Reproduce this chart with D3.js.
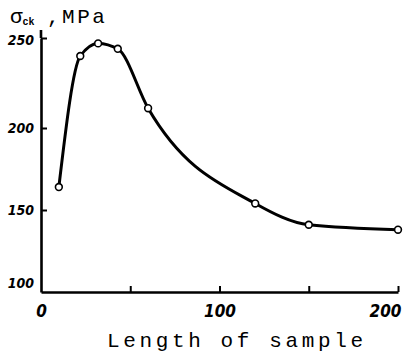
<!DOCTYPE html>
<html>
<head>
<meta charset="utf-8">
<script src="https://cdn.jsdelivr.net/npm/d3@7"></script>
<style>
  body { margin: 0; background: #fff; }
  svg { display: block; }
</style>
</head>
<body>
<div id="chart"></div>
<script>
// sample length and strength
const lengths = [10, 22, 32, 43, 60, 120, 150, 200];
const strength = [164, 240, 247, 244, 211, 154, 141, 138];
const yTicks = [100, 150, 200, 250];
const xTicks = [0, 50, 100, 150, 200];
const xLabels = [0, 100, 200];

const svg = d3.select("#chart")
    .append("svg")
    .attr("width", 406)
    .attr("height", 358);

const x = d3.scaleLinear().domain([0, 200]).range([41, 398]);
// the hand drawn axis is not evenly spaced, so map each labelled tick
const y = d3.scaleLinear().domain([100, 150, 200, 250]).range([292, 210, 128, 38]);

const tickFont = "'Liberation Sans Narrow', 'DejaVu Sans Condensed', sans-serif";

const yAxis = svg.append("g")
    .attr("transform", "translate(41,0)")
    .call(d3.axisLeft(y).tickValues(yTicks).tickSize(-6).tickSizeOuter(0).tickPadding(7));

const xAxis = svg.append("g")
    .attr("transform", "translate(0,292)")
    .call(d3.axisBottom(x).tickValues(xTicks).tickSize(-6).tickSizeOuter(0).tickPadding(13)
        .tickFormat(d => xLabels.includes(d) ? d : ""));

[yAxis, xAxis].forEach(g => {
    g.select(".domain").attr("stroke", "#000").attr("stroke-width", 2.6);
    g.selectAll(".tick line").attr("stroke", "#000").attr("stroke-width", 2);
    g.selectAll(".tick text")
        .attr("fill", "#000")
        .style("font-family", tickFont)
        .style("font-weight", "bold")
        .style("font-style", "italic");
});
yAxis.selectAll(".tick text").style("font-size", "14px");
yAxis.selectAll(".tick").filter(d => d === 100).select("line").remove();
yAxis.selectAll(".tick").filter(d => d === 100).select("text").attr("dy", "-0.3em");
yAxis.selectAll(".tick").filter(d => d === 250).select("text").attr("dy", "0.45em");
xAxis.selectAll(".tick text").style("font-size", "17px");
xAxis.selectAll(".tick").filter(d => d === 0).select("line").remove();
xAxis.selectAll(".tick").filter(d => d === 200).select("text").attr("text-anchor", "end").attr("dx", 3);

// little extension of the y axis above 250
svg.append("line")
    .attr("x1", 41).attr("x2", 41)
    .attr("y1", 30).attr("y2", y(250))
    .attr("stroke", "#000").attr("stroke-width", 2.6);

const pts = lengths.map((d, i) => [d, strength[i]]);

const line = d3.line()
    .x(d => x(d[0]))
    .y(d => y(d[1]))
    .curve(d3.curveMonotoneX);

svg.append("path")
    .datum(pts)
    .attr("d", line)
    .attr("fill", "none")
    .attr("stroke", "#000")
    .attr("stroke-width", 3);

svg.selectAll("circle")
    .data(pts)
    .enter()
    .append("circle")
    .attr("cx", d => x(d[0]))
    .attr("cy", d => y(d[1]))
    .attr("r", 3.4)
    .attr("fill", "#fff")
    .attr("stroke", "#000")
    .attr("stroke-width", 1.6);

// axis titles
const monoFont = "'Liberation Mono', 'DejaVu Sans Mono', monospace";

const yTitle = svg.append("text")
    .attr("x", 10)
    .attr("y", 23)
    .style("font-family", monoFont)
    .style("font-size", "21px")
    .attr("fill", "#000");
yTitle.append("tspan").text("σ");
yTitle.append("tspan").attr("dy", 2).style("font-size", "10px").style("font-weight", "bold").text("ck");
yTitle.append("tspan").attr("x", 47).attr("dy", -2).style("letter-spacing", "2.5px").text(",MPa");

svg.append("text")
    .attr("x", 107)
    .attr("y", 347)
    .attr("textLength", 256)
    .attr("lengthAdjust", "spacing")
    .style("font-family", monoFont)
    .style("font-size", "21px")
    .attr("fill", "#000")
    .text("Length of sample");
</script>
</body>
</html>
